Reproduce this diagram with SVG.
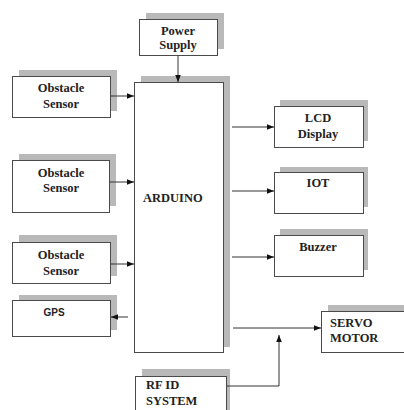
<svg xmlns="http://www.w3.org/2000/svg" width="404" height="410" viewBox="0 0 404 410">
<style>
.sh{fill:#b9b9b9}
.bx{fill:#fff;stroke:#4a4a4a;stroke-width:1}
.t{font-family:"Liberation Serif","Times New Roman",serif;font-weight:bold;font-size:12.5px;fill:#222}
.s{font-family:"Liberation Sans",Arial,sans-serif;font-weight:bold;font-size:10px;fill:#222}
.c{text-anchor:middle}
.ln{stroke:#333;stroke-width:1;fill:none}
</style>
<defs>
<marker id="ah" viewBox="0 0 10 10" refX="10" refY="5" markerWidth="7" markerHeight="7" markerUnits="userSpaceOnUse" orient="auto">
<path d="M0,1 L10,5 L0,9 Z" fill="#111"/>
</marker>
</defs>
<rect width="404" height="410" fill="#fff"/>

<g id="power">
<rect class="sh" x="146" y="13" width="78" height="36"/>
<rect class="bx" x="139.5" y="19.5" width="78" height="36"/>
<text class="t c" x="178" y="35">Power</text>
<text class="t c" x="178" y="49">Supply</text>
</g>

<g id="arduino">
<rect class="sh" x="141" y="76" width="89" height="271"/>
<rect class="bx" x="134.5" y="82.5" width="89" height="270"/>
<text class="t" x="143" y="202">ARDUINO</text>
</g>

<g id="obstacle1">
<rect class="sh" x="19" y="70" width="98" height="41"/>
<rect class="bx" x="12.5" y="76.5" width="98" height="41"/>
<text class="t c" x="61" y="92">Obstacle</text>
<text class="t c" x="61" y="108">Sensor</text>
</g>

<g id="obstacle2">
<rect class="sh" x="19" y="154" width="97" height="52"/>
<rect class="bx" x="12.5" y="160.5" width="97" height="52"/>
<text class="t c" x="61" y="177">Obstacle</text>
<text class="t c" x="61" y="192">Sensor</text>
</g>

<g id="obstacle3">
<rect class="sh" x="19" y="235" width="98" height="41"/>
<rect class="bx" x="12.5" y="242.5" width="98" height="41"/>
<text class="t c" x="61" y="259">Obstacle</text>
<text class="t c" x="61" y="275">Sensor</text>
</g>

<g id="gps">
<rect class="sh" x="19" y="295" width="98" height="35"/>
<rect class="bx" x="12.5" y="300.5" width="98" height="36"/>
<text class="s c" x="54" y="316">GPS</text>
</g>

<g id="lcd">
<rect class="sh" x="280" y="100" width="88" height="41"/>
<rect class="bx" x="274.5" y="106.5" width="89" height="41"/>
<text class="t c" x="318" y="122">LCD</text>
<text class="t c" x="318" y="138">Display</text>
</g>

<g id="iot">
<rect class="sh" x="280" y="167" width="88" height="40"/>
<rect class="bx" x="274.5" y="172.5" width="89" height="41"/>
<text class="t c" x="318" y="187">IOT</text>
</g>

<g id="buzzer">
<rect class="sh" x="280" y="229" width="88" height="41"/>
<rect class="bx" x="274.5" y="235.5" width="89" height="41"/>
<text class="t c" x="318" y="251">Buzzer</text>
</g>

<g id="servo">
<rect class="sh" x="328" y="305" width="80" height="41"/>
<rect class="bx" x="321.5" y="311.5" width="90" height="41"/>
<text class="t" x="330" y="327">SERVO</text>
<text class="t" x="330" y="342">MOTOR</text>
</g>

<g id="rfid">
<rect class="sh" x="142" y="369" width="88" height="45"/>
<rect class="bx" x="135.5" y="376.5" width="91" height="40"/>
<text class="t" x="146" y="389">RF ID</text>
<text class="t" x="146" y="405">SYSTEM</text>
</g>

<g id="connectors">
<line class="ln" x1="178" y1="56" x2="178" y2="82" marker-end="url(#ah)"/>
<line class="ln" x1="111" y1="96" x2="134" y2="96" marker-end="url(#ah)"/>
<line class="ln" x1="110" y1="182" x2="134" y2="182" marker-end="url(#ah)"/>
<line class="ln" x1="111" y1="264" x2="134" y2="264" marker-end="url(#ah)"/>
<line class="ln" x1="128" y1="317" x2="111" y2="317" marker-end="url(#ah)"/>
<line class="ln" x1="232" y1="127" x2="274" y2="127" marker-end="url(#ah)"/>
<line class="ln" x1="232" y1="191" x2="274" y2="191" marker-end="url(#ah)"/>
<line class="ln" x1="232" y1="257" x2="274" y2="257" marker-end="url(#ah)"/>
<line class="ln" x1="233" y1="328" x2="321" y2="328" marker-end="url(#ah)"/>
<polyline class="ln" points="227,386 279,386 279,335" marker-end="url(#ah)"/>
</g>
</svg>
